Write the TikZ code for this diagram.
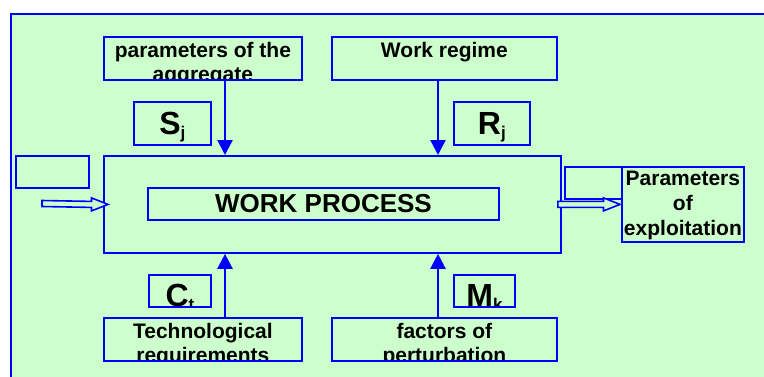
\documentclass[tikz,border=0pt]{standalone}
\usepackage{fontspec}
\setmainfont{Liberation Sans}
\usetikzlibrary{arrows.meta,calc}

\definecolor{panel}{HTML}{CCFFCC}
\definecolor{edge}{RGB}{0,0,255}

% label fonts
\newcommand\lbl{\fontsize{21}{24}\selectfont\bfseries}
\newcommand\lblwide{\fontsize{21}{25}\selectfont\bfseries}
\newcommand\twolines[2]{\begin{tabular}[t]{@{}c@{}}#1\\#2\end{tabular}}
\newcommand\threelines[3]{\begin{tabular}[t]{@{}c@{}}#1\\#2\\#3\end{tabular}}
% big symbol with a lowered index
\newcommand\sym[2]{{\fontsize{32}{32}\selectfont\bfseries #1}\raisebox{-4pt}{\fontsize{17}{17}\selectfont\bfseries #2}}

% hollow block arrow from #1 to the tip #2
\newcommand\hollowarrow[2]{%
  \draw[hollow] ($(#1)+(0,-3)$) -- ($(#2)+(-16.5,-3)$) -- ($(#2)+(-16.5,-6.5)$)
    -- (#2) -- ($(#2)+(-16.5,6.5)$) -- ($(#2)+(-16.5,3)$) -- ($(#1)+(0,3)$) -- cycle;}

\tikzset{
  box/.style={draw=edge, line width=1.8pt, fill=panel, inner sep=0pt,
    anchor=north west, minimum width=#1},
  flow/.style={draw=edge, line width=2.3pt, -{Triangle[length=15pt,width=15pt]}},
  hollow/.style={draw=edge, line width=1.6pt, fill=panel, line join=miter},
}

\begin{document}
\begin{tikzpicture}[x=1pt, y=-1pt]
  \clip (0,0) rectangle (764,376);
  % panel
  \path[fill=white] (0,0) rectangle (764,376);
  \path[fill=panel, draw=edge, line width=2pt] (10.5,13.5) rectangle (800,420);

  % sources above and below
  \node[box=198pt, minimum height=43pt, path picture={
      \node[anchor=base, inner sep=0pt, font=\lbl] at ([yshift=-21pt]path picture bounding box.north)
        {\twolines{parameters of the}{aggregate}};}] (agg) at (103,36) {};
  \node[box=225pt, minimum height=43pt, path picture={
      \node[anchor=base, inner sep=0pt, font=\lbl] at ([yshift=-21pt]path picture bounding box.north)
        {Work regime};}] (reg) at (331,36) {};
  \node[box=198pt, minimum height=43pt, path picture={
      \node[anchor=base, inner sep=0pt, font=\lbl] at ([yshift=-21pt]path picture bounding box.north)
        {\twolines{Technological}{requirements}};}] (tech) at (103,317) {};
  \node[box=225pt, minimum height=43pt, path picture={
      \node[anchor=base, inner sep=0pt, font=\lbl] at ([yshift=-21pt]path picture bounding box.north)
        {\twolines{factors of}{perturbation}};}] (pert) at (331,317) {};

  % index boxes
  \node[box=77pt, minimum height=43pt, path picture={
      \node[anchor=base, inner sep=0pt] at ([yshift=-33pt]path picture bounding box.north)
        {\sym{S}{j}};}] (sj) at (133,101) {};
  \node[box=76pt, minimum height=43pt, path picture={
      \node[anchor=base, inner sep=0pt] at ([yshift=-33pt]path picture bounding box.north)
        {\sym{R}{j}};}] (rj) at (453,101) {};
  \node[box=62pt, minimum height=32pt, path picture={
      \node[anchor=base, inner sep=0pt] at ([yshift=-32pt]path picture bounding box.north)
        {\sym{C}{t}};}] (ct) at (148,274) {};
  \node[box=61pt, minimum height=32pt, path picture={
      \node[anchor=base, inner sep=0pt] at ([yshift=-32pt]path picture bounding box.north)
        {\sym{M}{k}};}] (mk) at (453,274) {};

  % process block
  \node[box=457pt, minimum height=97pt] (wp) at (103,155) {};
  \node[box=351pt, minimum height=32pt, font=\fontsize{26}{26}\selectfont\bfseries,
        anchor=center] (wptitle) at (323.5,204) {WORK PROCESS};

  % input and output blocks
  \node[box=73pt, minimum height=32pt] (inbox) at (15,155) {};
  \node[box=57pt, minimum height=32pt] (outbox) at (564,166) {};
  \node[box=122pt, minimum height=75pt, path picture={
      \node[anchor=base, inner sep=0pt, font=\lblwide] at ([yshift=-19pt]path picture bounding box.north)
        {\threelines{Parameters}{of}{exploitation}};}] (expl) at (621,166) {};

  % connectors
  \coordinate (sx) at (225,0);
  \coordinate (rx) at (438,0);
  \draw[flow] (agg.south -| sx) -- (wp.north -| sx);
  \draw[flow] (reg.south -| rx) -- (wp.north -| rx);
  \draw[flow] (tech.north -| sx) -- (wp.south -| sx);
  \draw[flow] (pert.north -| rx) -- (wp.south -| rx);

  \coordinate (inL) at (42,203.5);
  \coordinate (inT) at ([xshift=5pt]wp.west);
  \coordinate (outL) at ([xshift=-4pt]wp.east);
  \coordinate (outT) at ([xshift=-1pt]expl.west);
  \hollowarrow{inL}{inT}
  \hollowarrow{outL}{outT}
\end{tikzpicture}
\end{document}
